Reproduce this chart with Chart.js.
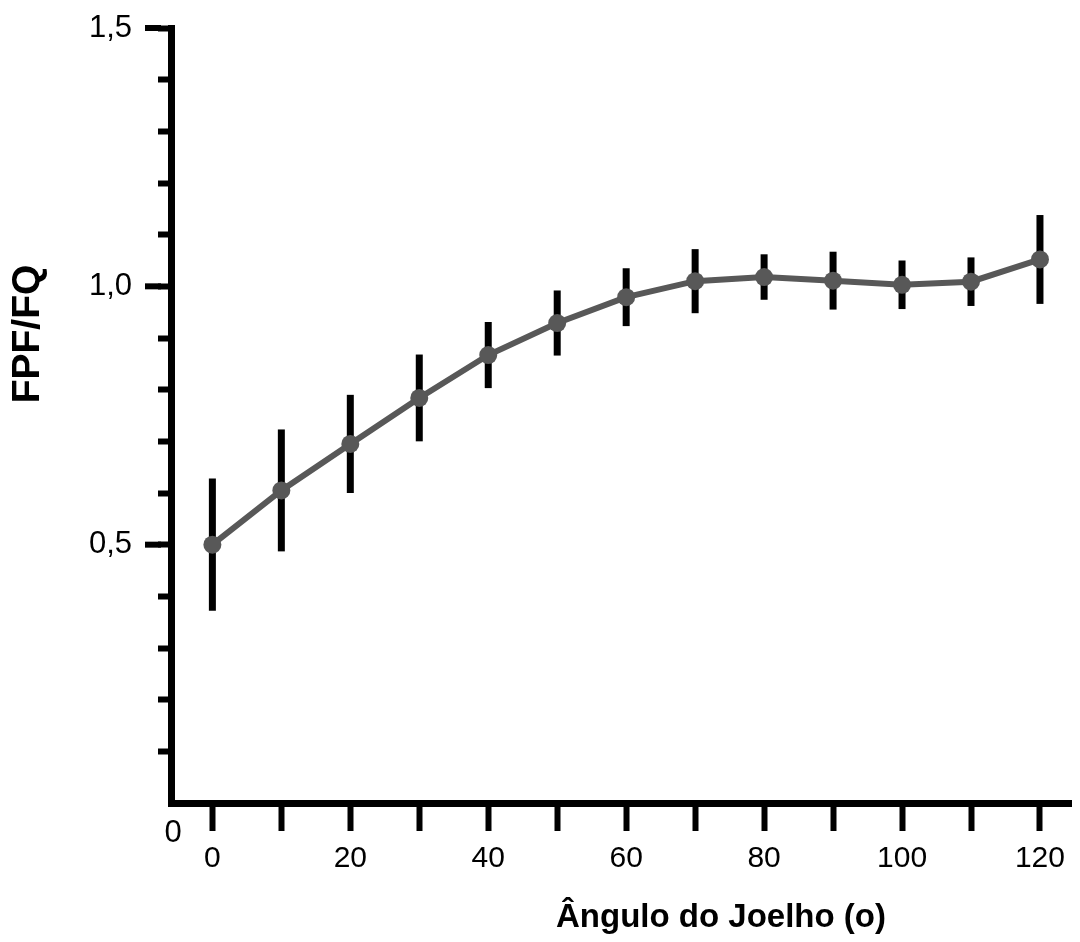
<!DOCTYPE html>
<html>
<head>
<meta charset="utf-8">
<script src="https://cdn.jsdelivr.net/npm/chart.js@4.4.0/dist/chart.umd.min.js"></script>
<style>
    html, body { margin: 0; padding: 0; background: #fff; }
    canvas { display: block; }
</style>
</head>
<body>
<canvas id="myChart" width="1080" height="942"></canvas>
<script>
"use strict";

// knee angle (degrees) and FPF/FQ ratio, mean and sd
let angles = [0, 10, 20, 30, 40, 50, 60, 70, 80, 90, 100, 110, 120];
let ratioMean = [0.50, 0.605, 0.695, 0.784, 0.867, 0.929, 0.979, 1.010, 1.018, 1.011, 1.003, 1.009, 1.052];
let ratioSd = [0.128, 0.118, 0.095, 0.084, 0.064, 0.063, 0.056, 0.062, 0.044, 0.056, 0.047, 0.047, 0.086];

let xTickValues = [0, 10, 20, 30, 40, 50, 60, 70, 80, 90, 100, 110, 120];
let xLabelValues = [0, 20, 40, 60, 80, 100, 120];
let yTickValues = [0.1, 0.2, 0.3, 0.4, 0.5, 0.6, 0.7, 0.8, 0.9, 1.0, 1.1, 1.2, 1.3, 1.4, 1.5];
let yLabelValues = [0.5, 1.0, 1.5];

let xTitle = "Ângulo do Joelho (o)";
let yTitle = "FPF/FQ";

let fontFamily = "'Liberation Sans', Arial, Helvetica, sans-serif";
let lineGrey = "#585858";

function isLabel(list, v) {
    return list.some(function (l) { return Math.abs(l - v) < 1e-6; });
}

let errorBars = {
    id: "errorBars",
    beforeDatasetsDraw: function (chart) {
        let ctx = chart.ctx;
        let x = chart.scales.x;
        let y = chart.scales.y;
        ctx.save();
        ctx.strokeStyle = "#000";
        ctx.lineWidth = 7;
        for (let i = 0; i < angles.length; i++) {
            let px = x.getPixelForValue(angles[i]);
            ctx.beginPath();
            ctx.moveTo(px, y.getPixelForValue(ratioMean[i] + ratioSd[i]));
            ctx.lineTo(px, y.getPixelForValue(ratioMean[i] - ratioSd[i]));
            ctx.stroke();
        }
        ctx.restore();
    }
};

let axisExtras = {
    id: "axisExtras",
    afterDraw: function (chart) {
        let ctx = chart.ctx;
        let y = chart.scales.y;
        let left = chart.chartArea.left;
        ctx.save();

        // longer ticks at the labelled values
        ctx.strokeStyle = "#000";
        ctx.lineWidth = 6;
        yLabelValues.forEach(function (v) {
            let py = y.getPixelForValue(v);
            ctx.beginPath();
            ctx.moveTo(left - 26, py);
            ctx.lineTo(left - 10, py);
            ctx.stroke();
        });

        ctx.fillStyle = "#000";
        ctx.textAlign = "center";
        ctx.textBaseline = "middle";

        // the lone "0" under the corner
        ctx.font = "31px " + fontFamily;
        ctx.fillText("0", left + 2, y.getPixelForValue(0) + 30);

        // axis titles
        ctx.font = "bold 33px " + fontFamily;
        ctx.fillText(xTitle, 721, 918);

        ctx.translate(28, 334);
        ctx.rotate(-Math.PI / 2);
        ctx.font = "bold 39px " + fontFamily;
        ctx.fillText(yTitle, 0, 0);

        ctx.restore();
    }
};

let points = angles.map(function (a, i) {
    return { x: a, y: ratioMean[i] };
});

let myChart = new Chart(document.getElementById("myChart"), {
    type: "line",
    data: {
        datasets: [{
            data: points,
            borderColor: lineGrey,
            borderWidth: 6,
            backgroundColor: lineGrey,
            pointRadius: 9,
            pointBorderWidth: 0,
            pointBackgroundColor: lineGrey,
            tension: 0,
            clip: false
        }]
    },
    options: {
        responsive: false,
        animation: false,
        events: [],
        layout: { padding: { top: 28, left: 0, right: 0, bottom: 0 } },
        plugins: {
            legend: { display: false },
            tooltip: { enabled: false }
        },
        scales: {
            x: {
                type: "linear",
                min: -6,
                max: 124.5,
                afterBuildTicks: function (s) {
                    s.ticks = xTickValues.map(function (v) { return { value: v }; });
                },
                afterFit: function (s) {
                    s.height = 139;
                    s.paddingLeft = 0;
                    s.paddingRight = 0;
                },
                border: { display: true, color: "#000", width: 7 },
                grid: { drawOnChartArea: false, tickLength: 28, tickWidth: 6, tickColor: "#000" },
                ticks: {
                    autoSkip: false,
                    maxRotation: 0,
                    padding: 10,
                    color: "#000",
                    font: { family: fontFamily, size: 30 },
                    callback: function (v) { return isLabel(xLabelValues, v) ? String(v) : ""; }
                }
            },
            y: {
                min: 0,
                max: 1.5,
                afterBuildTicks: function (s) {
                    s.ticks = yTickValues.map(function (v) { return { value: v }; });
                },
                afterFit: function (s) {
                    s.width = 171;
                    s.paddingTop = 0;
                    s.paddingBottom = 0;
                },
                border: { display: true, color: "#000", width: 7 },
                grid: { drawOnChartArea: false, tickLength: 13, tickWidth: 6, tickColor: "#000" },
                ticks: {
                    autoSkip: false,
                    padding: 26,
                    color: "#000",
                    font: { family: fontFamily, size: 31 },
                    callback: function (v) {
                        return isLabel(yLabelValues, v) ? v.toFixed(1).replace(".", ",") : "";
                    }
                }
            }
        }
    },
    plugins: [errorBars, axisExtras]
});
</script>
</body>
</html>
